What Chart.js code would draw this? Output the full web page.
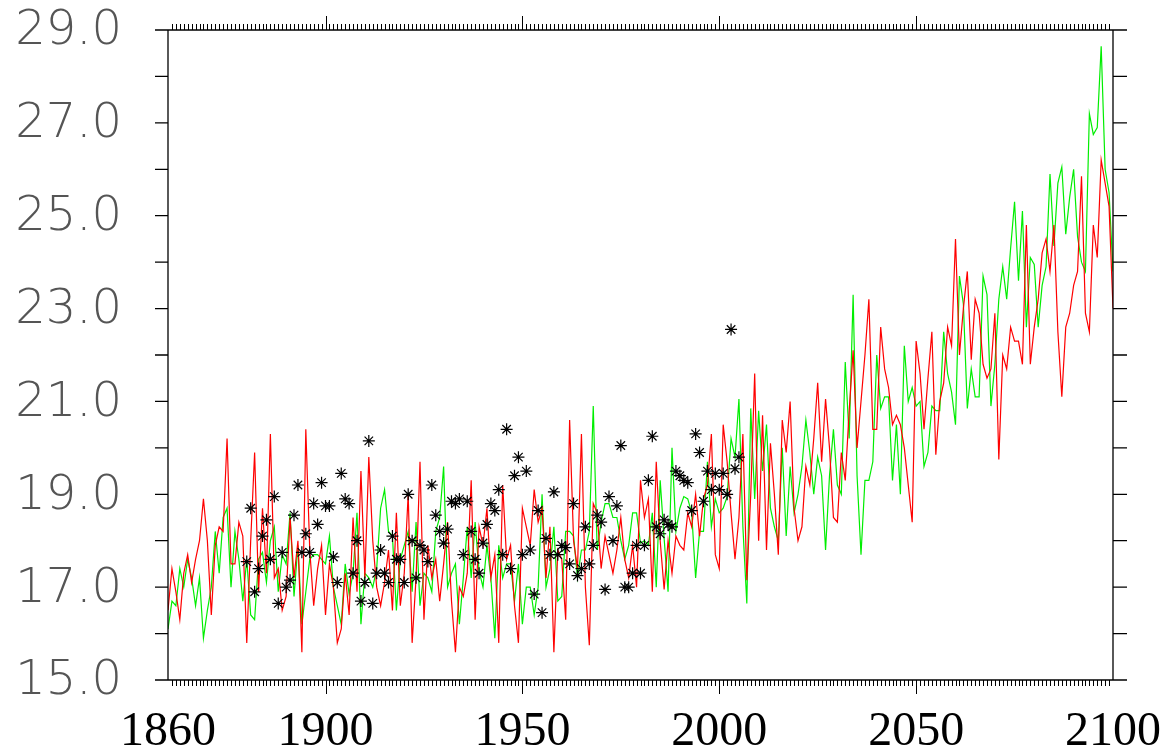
<!DOCTYPE html>
<html><head><meta charset="utf-8">
<script src="https://cdn.jsdelivr.net/npm/chart.js@4"></script>
<style>html,body{margin:0;padding:0;background:#fff}#wrap{width:1170px;height:753px}</style>
</head><body><div id="wrap"><canvas id="c"></canvas></div>
<script>
const startYear = 1860, endYear = 2100;
const xLabelYears = [1860, 1900, 1950, 2000, 2050, 2100];
const yLabelValues = [15, 17, 19, 21, 23, 25, 27, 29];

const redSeries = [
16.5,17.4,16.9,16.3,17.3,17.7,17.1,17.6,18.0,18.9,
18.0,16.4,17.9,18.3,18.2,20.2,17.5,17.5,18.4,18.1,
15.8,18.0,19.9,16.9,18.7,17.3,20.3,17.2,17.4,16.5,
16.8,18.5,17.2,18.0,15.6,20.4,17.8,16.6,17.4,17.9,
16.4,17.5,17.0,15.8,16.1,17.3,16.4,18.5,16.9,19.5,
17.2,19.8,18.0,17.0,16.6,17.1,17.8,16.5,18.6,16.6,
17.3,19.0,15.8,17.2,19.7,16.3,17.9,17.2,17.6,16.7,
17.5,18.4,16.7,15.6,17.0,16.8,17.3,19.3,16.3,18.3,
17.9,18.7,17.2,17.7,15.8,19.2,17.6,17.9,16.6,15.8,
18.7,18.3,17.9,19.1,18.4,18.7,17.2,18.3,15.6,17.8,
17.6,16.3,20.6,18.0,17.4,20.3,17.0,15.75,18.8,18.6,
17.4,18.1,17.7,17.3,17.8,18.5,17.6,17.2,17.9,17.0,
19.3,18.5,18.9,16.9,19.7,18.0,16.95,18.0,17.3,18.1,
17.9,17.8,18.6,18.3,19.0,18.1,18.9,19.2,20.3,17.7,
17.4,20.5,19.7,18.6,17.6,18.5,20.3,17.15,19.0,21.6,
18.0,20.7,17.8,20.1,19.0,17.7,20.6,19.9,21.0,18.7,
18.0,18.3,19.6,19.2,20.2,21.4,19.7,21.05,20.0,18.5,
18.4,19.9,19.3,20.8,22.1,20.0,21.0,22.0,23.2,20.4,
20.4,22.6,21.7,21.3,20.5,20.7,20.5,20.0,19.2,18.4,
22.3,21.6,20.4,21.5,22.5,19.85,21.0,21.4,22.6,22.2,
24.5,22.0,23.0,23.8,21.9,23.2,22.9,21.8,21.5,21.7,
22.9,19.75,22.0,21.7,22.6,22.3,22.3,21.8,24.8,21.8,
22.6,23.2,24.2,24.5,23.8,24.8,22.5,21.1,22.6,22.9,
23.5,23.8,25.85,22.9,22.5,24.8,24.1,26.2,25.7,25.2,
23.0];

const greenSeries = [
16.1,16.7,16.6,17.4,17.0,17.6,17.2,16.6,17.2,15.9,
16.5,17.0,18.2,17.3,18.5,18.7,17.0,18.2,17.6,16.7,
17.6,16.4,16.3,17.6,17.75,17.1,18.0,18.3,16.9,17.7,
17.5,18.6,16.8,17.9,16.2,16.9,17.6,17.7,17.7,17.6,
17.5,18.1,17.0,16.6,16.2,17.5,16.85,17.3,18.6,16.2,
17.3,17.2,17.0,17.4,18.7,19.1,18.2,18.1,16.5,17.6,
17.9,18.2,16.9,18.4,16.6,17.3,17.2,16.9,18.2,18.5,
19.6,17.0,17.3,17.5,16.2,17.2,18.3,17.2,18.4,17.35,
17.0,17.9,17.2,15.9,17.9,17.2,17.5,17.5,16.7,17.5,
16.2,17.0,17.0,16.4,17.0,19.0,17.0,17.4,18.3,16.7,
16.8,18.2,18.2,18.1,17.2,17.8,17.8,18.2,20.9,17.8,
18.4,18.8,18.8,18.5,18.5,18.0,17.6,17.9,18.6,18.6,
17.95,18.0,17.9,18.6,17.0,19.3,18.05,16.9,20.0,18.2,
18.7,18.95,18.9,18.6,17.2,18.2,18.2,19.7,18.3,18.9,
18.6,18.7,18.95,20.2,19.8,21.05,18.3,16.65,20.85,18.9,
20.8,19.5,20.5,18.7,18.3,18.0,20.0,18.1,19.6,18.6,
19.0,19.6,20.6,19.9,19.0,19.8,19.4,17.8,19.4,20.4,
19.2,19.0,21.85,20.2,23.3,19.4,17.7,19.3,19.3,19.7,
22.0,20.85,21.1,21.1,19.3,20.5,19.0,22.2,21.0,21.3,
20.9,21.0,19.6,19.9,20.9,20.8,20.8,22.5,21.6,21.2,
20.5,23.7,23.1,20.85,21.7,21.1,21.1,23.7,23.3,20.9,
21.8,23.2,23.9,23.2,24.3,25.3,23.6,25.1,22.6,24.1,
23.95,22.6,23.5,23.9,25.9,24.35,25.7,26.05,24.6,25.4,
26.0,24.55,24.0,23.8,27.2,26.75,26.9,28.65,26.0,25.5,
23.8];

const obsStartYear = 1880;
const observed = [
17.55,18.7,16.9,17.4,18.1,18.45,17.6,18.95,16.65,17.75,
17.0,17.15,18.55,19.2,17.75,18.15,17.75,18.8,18.35,19.25,
18.75,18.75,17.65,17.1,19.45,18.9,18.8,17.3,18.0,16.7,
17.1,20.15,16.65,17.3,17.8,17.3,17.1,18.1,17.6,17.6,
17.1,19.0,18.0,17.2,17.9,17.8,17.55,19.2,18.55,18.2,
17.95,18.25,18.85,18.8,18.9,17.7,18.85,18.2,17.6,17.3,
17.95,18.35,18.8,18.65,19.1,17.7,20.4,17.4,19.4,19.8,
17.7,19.5,17.8,16.85,18.65,16.45,18.05,17.7,19.05,17.7,
17.9,17.85,17.5,18.8,17.25,17.4,18.3,17.5,17.9,18.55,
18.4,16.95,18.95,18.0,18.75,20.05,17.0,17.0,17.3,17.9,
17.3,17.9,19.3,20.25,18.3,18.15,18.45,18.35,18.3,19.5,
19.4,19.3,19.25,18.65,20.3,19.9,18.85,19.5,19.1,19.45,
19.1,19.45,19.0,22.55,19.55,19.8];

const toPts = (arr, y0) => arr.map((v, i) => ({x: y0 + i, y: v}));

const axesPlugin = {
  id: 'axesPlugin',
  afterDraw(chart) {
    const ctx = chart.ctx, a = chart.chartArea;
    const xs = chart.scales.x, ys = chart.scales.y;
    ctx.save();
    ctx.strokeStyle = '#000';
    ctx.lineWidth = 1.3;
    ctx.beginPath();
    ctx.moveTo(a.left, a.top); ctx.lineTo(a.left, a.bottom);
    ctx.moveTo(a.right, a.top); ctx.lineTo(a.right, a.bottom);
    ctx.moveTo(a.left, a.bottom); ctx.lineTo(a.right, a.bottom);
    ctx.moveTo(a.left, a.top); ctx.lineTo(a.right, a.top);
    for (let v = 15; v <= 29; v++) {
      const p = ys.getPixelForValue(v);
      ctx.moveTo(a.left - 13, p); ctx.lineTo(a.left, p);
      ctx.moveTo(a.right, p); ctx.lineTo(a.right + 14, p);
    }
    ctx.stroke();
    ctx.lineWidth = 1;
    ctx.beginPath();
    for (let yr = startYear + 1; yr < endYear; yr++) {
      const p = Math.round(xs.getPixelForValue(yr)) + 0.5;
      const major = yr % 50 === 0;
      ctx.moveTo(p, a.bottom); ctx.lineTo(p, a.bottom + (major ? 14 : 6));
      ctx.moveTo(p, a.top); ctx.lineTo(p, a.top - (major ? 14 : 6));
    }
    ctx.stroke();
    ctx.fillStyle = '#000';
    ctx.font = '48px "Liberation Serif"';
    ctx.textAlign = 'center'; ctx.textBaseline = 'alphabetic';
    xLabelYears.forEach(yr => ctx.fillText(String(yr), xs.getPixelForValue(yr), 745));
    ctx.fillStyle = '#555';
    ctx.font = '200 48px "DejaVu Sans"';
    ctx.textAlign = 'right'; ctx.textBaseline = 'middle';
    yLabelValues.forEach(v => ctx.fillText(v.toFixed(1), 122, ys.getPixelForValue(v) + 2));
    ctx.restore();
  }
};

new Chart(document.getElementById('c'), {
  type: 'line',
  data: {
    datasets: [
      {data: toPts(observed, obsStartYear), showLine: false, pointStyle: 'star', pointRadius: 6,
       borderColor: '#000', backgroundColor: '#000', borderWidth: 1.2, order: 0},
      {data: toPts(redSeries, startYear), borderColor: '#ff0000', borderWidth: 1.2, pointRadius: 0, tension: 0, order: 1},
      {data: toPts(greenSeries, startYear), borderColor: '#00ee00', borderWidth: 1.2, pointRadius: 0, tension: 0, order: 2}
    ]
  },
  options: {
    responsive: true, maintainAspectRatio: false, animation: false,
    layout: {padding: {left: 168, right: 57, top: 30, bottom: 73}},
    plugins: {legend: {display: false}, tooltip: {enabled: false}},
    scales: {
      x: {type: 'linear', min: startYear, max: endYear, display: false},
      y: {type: 'linear', min: 15, max: 29, display: false}
    }
  },
  plugins: [axesPlugin]
});
</script></body></html>
